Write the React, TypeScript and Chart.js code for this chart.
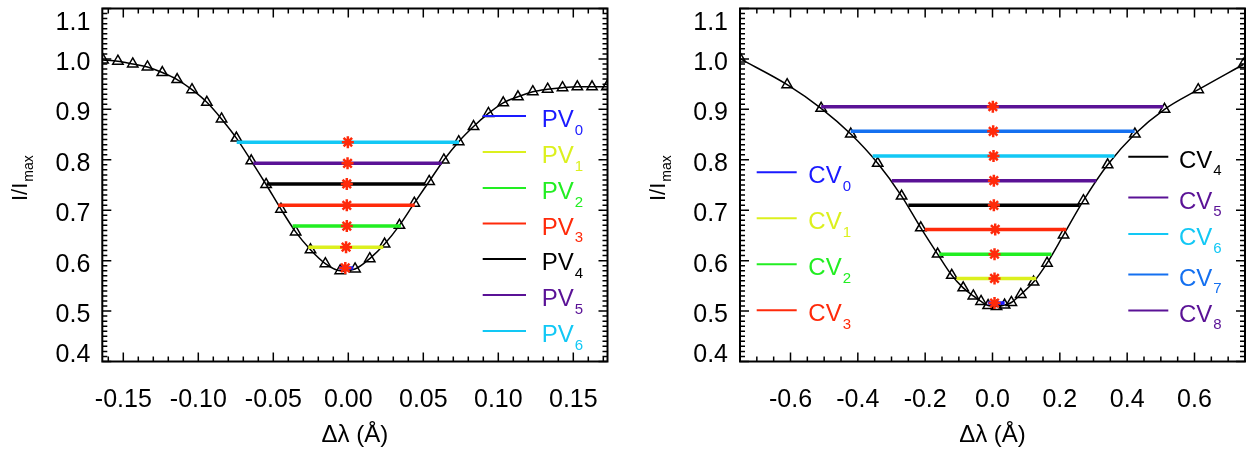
import React, { useEffect, useRef } from "react";
import { Chart, registerables } from "chart.js";

Chart.register(...registerables);

const FONT = '"Liberation Sans", Arial, Helvetica, sans-serif';

// ---------- Left panel (PV) ----------
const pvProfileX = [-0.1635, -0.1536, -0.1437, -0.1339, -0.124, -0.1141, -0.1042, -0.0943, -0.0845, -0.0746, -0.0647, -0.0548, -0.0449, -0.0351, -0.0252, -0.0153, -0.0054, 0.0045, 0.0143, 0.0242, 0.0341, 0.044, 0.0539, 0.0637, 0.0736, 0.0835, 0.0934, 0.1033, 0.1131, 0.123, 0.1329, 0.1428, 0.1527, 0.1625, 0.1724];
const pvProfileY = [0.998, 0.9955, 0.99, 0.984, 0.973, 0.959, 0.939, 0.914, 0.881, 0.843, 0.798, 0.751, 0.702, 0.657, 0.6215, 0.594, 0.58, 0.5835, 0.604, 0.633, 0.67, 0.714, 0.757, 0.7997, 0.836, 0.866, 0.892, 0.913, 0.925, 0.935, 0.94, 0.943, 0.9446, 0.9446, 0.9446];
const pvLevels = [0.5855, 0.6266, 0.6685, 0.7096, 0.752, 0.793, 0.835];
const pvChordStart = [-0.006, -0.0267, -0.0371, -0.0467, -0.0544, -0.0633, -0.0744];
const pvChordEnd = [0.0033, 0.0233, 0.035, 0.0443, 0.0511, 0.0623, 0.0738];
const pvBisectorX = [-0.002, -0.0015, -0.001, -0.001, -0.001, -0.0005, -0.0003];
const pvNames = ["PV", "PV", "PV", "PV", "PV", "PV", "PV"];
const pvSubs = ["0", "1", "2", "3", "4", "5", "6"];
const pvColors = ["#1a1aff", "#dcf01e", "#22ee22", "#ff2a0a", "#000000", "#5a1296", "#12c8f5"];
const pvXTicks = [-0.15, -0.1, -0.05, 0, 0.05, 0.1, 0.15];
const pvXTickLabels = ["-0.15", "-0.10", "-0.05", "0.00", "0.05", "0.10", "0.15"];

// ---------- Right panel (CV) ----------
const cvProfileX = [-0.749, -0.61, -0.509, -0.421, -0.341, -0.27, -0.213, -0.163, -0.121, -0.087, -0.057, -0.034, -0.013, 0.012, 0.036, 0.056, 0.084, 0.122, 0.162, 0.211, 0.27, 0.342, 0.423, 0.511, 0.611, 0.745];
const cvProfileY = [1.0, 0.949, 0.902, 0.851, 0.793, 0.728, 0.665, 0.613, 0.571, 0.546, 0.53, 0.519, 0.511, 0.509, 0.512, 0.517, 0.533, 0.5575, 0.595, 0.651, 0.719, 0.79, 0.851, 0.9, 0.939, 0.989];
const cvLevels = [0.5158, 0.5647, 0.6129, 0.6618, 0.7096, 0.7586, 0.8075, 0.8565, 0.9054];
const cvChordStart = [-0.014, -0.107, -0.158, -0.201, -0.25, -0.299, -0.356, -0.421, -0.509];
const cvChordEnd = [0.036, 0.13, 0.175, 0.219, 0.259, 0.308, 0.362, 0.422, 0.507];
const cvBisectorX = [0.006, 0.006, 0.006, 0.008, 0.004, 0.004, 0.003, 0.002, 0.001];
const cvNames = ["CV", "CV", "CV", "CV", "CV", "CV", "CV", "CV", "CV"];
const cvSubs = ["0", "1", "2", "3", "4", "5", "6", "7", "8"];
const cvColors = ["#1a1aff", "#dcf01e", "#22ee22", "#ff2a0a", "#000000", "#5a1296", "#12c8f5", "#1470f0", "#5a1296"];
const cvXTicks = [-0.6, -0.4, -0.2, 0, 0.2, 0.4, 0.6];
const cvXTickLabels = ["-0.6", "-0.4", "-0.2", "0.0", "0.2", "0.4", "0.6"];

// ---------- Shared y axis ----------
const yTicks = [0.4, 0.5, 0.6, 0.7, 0.8, 0.9, 1.0, 1.1];
const yTickLabels = ["0.4", "0.5", "0.6", "0.7", "0.8", "0.9", "1.0", "1.1"];

const ASTERISK_COLOR = "#ff2a0a";

type LegendPos = { x0: number; x1: number; tx: number; y: number };

type PanelCfg = {
  xMin: number;
  xMax: number;
  xMinorStep: number;
  xTicks: number[];
  xTickLabels: string[];
  profileX: number[];
  profileY: number[];
  levels: number[];
  chordStart: number[];
  chordEnd: number[];
  bisectorX: number[];
  names: string[];
  subs: string[];
  colors: string[];
  legend: LegendPos[];
  yAxisWidth: number;
  padRight: number;
};

function makeFramePlugin(cfg: PanelCfg) {
  return {
    id: "idlFrame",
    afterDraw(chart: any) {
      const { ctx, chartArea: a, scales } = chart;
      const xs = scales.x;
      const ys = scales.y;
      ctx.save();

      // inward ticks on all four sides
      ctx.strokeStyle = "#000";
      ctx.lineWidth = 1.5;
      ctx.beginPath();
      const drawX = (v: number, len: number) => {
        const px = xs.getPixelForValue(v);
        ctx.moveTo(px, a.bottom);
        ctx.lineTo(px, a.bottom - len);
        ctx.moveTo(px, a.top);
        ctx.lineTo(px, a.top + len);
      };
      const drawY = (v: number, len: number) => {
        const py = ys.getPixelForValue(v);
        ctx.moveTo(a.left, py);
        ctx.lineTo(a.left + len, py);
        ctx.moveTo(a.right, py);
        ctx.lineTo(a.right - len, py);
      };
      const i0 = Math.ceil(cfg.xMin / cfg.xMinorStep - 1e-9);
      const i1 = Math.floor(cfg.xMax / cfg.xMinorStep + 1e-9);
      for (let i = i0; i <= i1; i++) drawX(i * cfg.xMinorStep, 5);
      cfg.xTicks.forEach((v) => drawX(v, 9));
      for (let i = 40; i <= 110; i++) drawY(i / 100, 5);
      yTicks.forEach((v) => drawY(v, 9));
      ctx.stroke();

      // box
      ctx.lineWidth = 2;
      ctx.strokeRect(a.left, a.top, a.right - a.left, a.bottom - a.top);

      // y tick labels
      ctx.fillStyle = "#000";
      ctx.font = `25px ${FONT}`;
      ctx.textAlign = "right";
      ctx.textBaseline = "alphabetic";
      yTicks.forEach((v, i) => {
        const py = ys.getPixelForValue(v);
        let base = py + 11;
        base = Math.max(base, a.top + 21);
        base = Math.min(base, a.bottom);
        ctx.fillText(yTickLabels[i], a.left - 12, base);
      });

      // x tick labels
      ctx.textAlign = "center";
      cfg.xTicks.forEach((v, i) => {
        const px = xs.getPixelForValue(v);
        ctx.fillText(cfg.xTickLabels[i], px, a.bottom + 45.5);
      });

      // x title
      ctx.font = `24px ${FONT}`;
      ctx.fillText("Δλ (Å)", (a.left + a.right) / 2, a.bottom + 80);

      // y title (rotated, with subscript)
      const cy = (a.top + a.bottom) / 2;
      ctx.save();
      ctx.translate(a.left - 75, cy + 16);
      ctx.rotate(-Math.PI / 2);
      ctx.textAlign = "left";
      ctx.font = `22px ${FONT}`;
      ctx.fillText("I/I", 0, 0);
      const w0 = ctx.measureText("I/I").width;
      ctx.font = `14px ${FONT}`;
      ctx.fillText("max", w0 + 1, 6);
      ctx.restore();

      // legend
      cfg.legend.forEach((L, i) => {
        ctx.strokeStyle = cfg.colors[i];
        ctx.lineWidth = 2;
        ctx.beginPath();
        ctx.moveTo(L.x0, L.y);
        ctx.lineTo(L.x1, L.y);
        ctx.stroke();
        ctx.fillStyle = cfg.colors[i];
        ctx.textAlign = "left";
        ctx.font = `24px ${FONT}`;
        ctx.fillText(cfg.names[i], L.tx, L.y + 11);
        const w = ctx.measureText(cfg.names[i]).width;
        ctx.font = `15px ${FONT}`;
        ctx.fillText(cfg.subs[i], L.tx + w + 1, L.y + 18.5);
      });

      ctx.restore();
    },
  };
}

function buildConfig(cfg: PanelCfg) {
  const datasets: any[] = [];
  datasets.push({
    data: cfg.profileX.map((x, i) => ({ x, y: cfg.profileY[i] })),
    borderColor: "#000",
    borderWidth: 1.5,
    pointStyle: "triangle",
    pointRadius: 6,
    pointBorderColor: "#000",
    pointBackgroundColor: "rgba(0,0,0,0)",
    pointBorderWidth: 1.5,
    cubicInterpolationMode: "monotone",
    order: 2,
  });
  cfg.levels.forEach((lev, i) => {
    datasets.push({
      data: [
        { x: cfg.chordStart[i], y: lev },
        { x: cfg.chordEnd[i], y: lev },
      ],
      borderColor: cfg.colors[i],
      borderWidth: 3.5,
      pointRadius: 0,
      order: 1,
    });
  });
  datasets.push({
    data: cfg.bisectorX.map((x, i) => ({ x, y: cfg.levels[i] })),
    showLine: false,
    pointStyle: "star",
    pointRadius: 6,
    pointBorderColor: ASTERISK_COLOR,
    pointBackgroundColor: ASTERISK_COLOR,
    borderColor: ASTERISK_COLOR,
    pointBorderWidth: 2.5,
    order: 0,
  });

  return {
    type: "line" as const,
    data: { datasets },
    options: {
      animation: false,
      responsive: false,
      maintainAspectRatio: false,
      events: [],
      layout: { padding: { left: 0, right: cfg.padRight, top: 4, bottom: 0 } },
      plugins: { legend: { display: false }, tooltip: { enabled: false } },
      scales: {
        x: {
          type: "linear",
          min: cfg.xMin,
          max: cfg.xMax,
          ticks: { display: false },
          grid: { display: false },
          border: { display: false },
          afterFit: (s: any) => {
            s.height = 95.5;
          },
        },
        y: {
          type: "linear",
          min: 0.4,
          max: 1.1,
          ticks: { display: false },
          grid: { display: false },
          border: { display: false },
          afterFit: (s: any) => {
            s.width = cfg.yAxisWidth;
          },
        },
      },
    },
    plugins: [makeFramePlugin(cfg)],
  };
}

const leftCfg: PanelCfg = {
  xMin: -0.164,
  xMax: 0.1728,
  xMinorStep: 0.01,
  xTicks: pvXTicks,
  xTickLabels: pvXTickLabels,
  profileX: pvProfileX,
  profileY: pvProfileY,
  levels: pvLevels,
  chordStart: pvChordStart,
  chordEnd: pvChordEnd,
  bisectorX: pvBisectorX,
  names: pvNames,
  subs: pvSubs,
  colors: pvColors,
  legend: [116, 152, 188, 223.5, 259, 295, 331].map((y) => ({ x0: 482.7, x1: 526, tx: 541.7, y })),
  yAxisWidth: 102.3,
  padRight: 628 - 607.5,
};

const rightCfg: PanelCfg = {
  xMin: -0.75,
  xMax: 0.75,
  xMinorStep: 0.05,
  xTicks: cvXTicks,
  xTickLabels: cvXTickLabels,
  profileX: cvProfileX,
  profileY: cvProfileY,
  levels: cvLevels,
  chordStart: cvChordStart,
  chordEnd: cvChordEnd,
  bisectorX: cvBisectorX,
  names: cvNames,
  subs: cvSubs,
  colors: cvColors,
  legend: [
    ...[172.3, 218.3, 264.3, 310.3].map((y) => ({ x0: 128.7, x1: 168.7, tx: 180.3, y })),
    ...[156.7, 197.5, 234, 274.5, 310.5].map((y) => ({ x0: 500.3, x1: 540.3, tx: 551, y })),
  ],
  yAxisWidth: 112,
  padRight: 11,
};

export default function App() {
  const leftRef = useRef<HTMLCanvasElement | null>(null);
  const rightRef = useRef<HTMLCanvasElement | null>(null);

  useEffect(() => {
    const c1 = new Chart(leftRef.current as HTMLCanvasElement, buildConfig(leftCfg) as any);
    const c2 = new Chart(rightRef.current as HTMLCanvasElement, buildConfig(rightCfg) as any);
    return () => {
      c1.destroy();
      c2.destroy();
    };
  }, []);

  return (
    <div style={{ position: "fixed", left: 0, top: 0, width: 1256, height: 457, background: "#fff" }}>
      <canvas ref={leftRef} width={628} height={457} style={{ position: "absolute", left: 0, top: 0 }} />
      <canvas ref={rightRef} width={628} height={457} style={{ position: "absolute", left: 628, top: 0 }} />
    </div>
  );
}
